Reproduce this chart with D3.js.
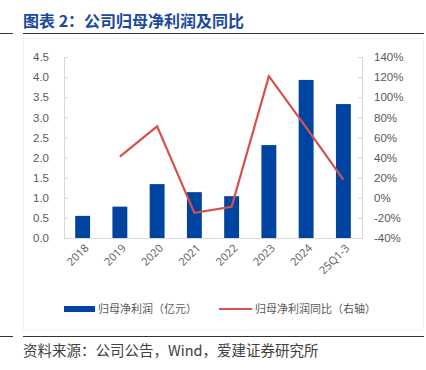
<!DOCTYPE html>
<html>
<head>
<meta charset="utf-8">
<script src="https://cdn.jsdelivr.net/npm/d3@7"></script>
<style>
  body { margin: 0; background: #fff; }
  svg { display: block; font-family: "Open Sans", "Noto Sans CJK SC", sans-serif; }
</style>
</head>
<body>
<svg width="426" height="370"></svg>
<script>
const categories = ["2018", "2019", "2020", "2021", "2022", "2023", "2024", "25Q1-3"];
const profit = [0.55, 0.78, 1.34, 1.14, 1.04, 2.31, 3.93, 3.33];
const yoy = [null, 41, 71, -15, -9, 121, 70, 18];
const leftTicks = [0, 0.5, 1, 1.5, 2, 2.5, 3, 3.5, 4, 4.5];
const rightTicks = [-40, -20, 0, 20, 40, 60, 80, 100, 120, 140];

const svg = d3.select("svg");
const margin = { top: 57, left: 64, right: 362, bottom: 238 };

const x = d3.scaleBand()
  .domain(categories)
  .range([margin.left, margin.right])
  .paddingInner(0.6)
  .paddingOuter(0.3);

const yL = d3.scaleLinear().domain([0, 4.5]).range([margin.bottom, margin.top]);
const yR = d3.scaleLinear().domain([-40, 140]).range([margin.bottom, margin.top]);

// title
svg.append("text")
  .attr("x", 23).attr("y", 27)
  .attr("fill", "#1b4a9c")
  .attr("font-size", 16).attr("font-weight", "bold")
  .attr("font-family", "'Noto Sans CJK SC', sans-serif")
  .text("图表 2：公司归母净利润及同比");

svg.append("line").attr("x1", 23).attr("x2", 424).attr("y1", 33.5).attr("y2", 33.5)
  .attr("stroke", "#333").attr("stroke-width", 1.2);
svg.append("line").attr("x1", 0).attr("x2", 13).attr("y1", 33.5).attr("y2", 33.5)
  .attr("stroke", "#333").attr("stroke-width", 1);

// faint chart frame
svg.append("rect").attr("x", 23.5).attr("y", 38.5).attr("width", 400).attr("height", 292)
  .attr("fill", "none").attr("stroke", "#f3f3f3");

// axes
const axisL = d3.axisLeft(yL).tickValues(leftTicks).tickFormat(d3.format(".1f")).tickSize(-4).tickPadding(15);
const axisR = d3.axisRight(yR).tickValues(rightTicks).tickFormat(d => d + "%").tickSize(-4).tickPadding(12);

const gL = svg.append("g").attr("transform", `translate(${margin.left},0)`).call(axisL);
const gR = svg.append("g").attr("transform", `translate(${margin.right},0)`).call(axisR);

[gL, gR].forEach(g => {
  g.select(".domain").attr("stroke", "#d9d9d9");
  g.selectAll(".tick line").attr("stroke", "#d9d9d9");
  g.selectAll(".tick text").attr("fill", "#595959").attr("font-size", 11.5);
});

svg.append("line")
  .attr("x1", margin.left).attr("x2", margin.right)
  .attr("y1", margin.bottom + 0.5).attr("y2", margin.bottom + 0.5)
  .attr("stroke", "#d9d9d9");

// bars
svg.append("g").selectAll("rect")
  .data(profit)
  .enter()
  .append("rect")
  .attr("x", (d, i) => x(categories[i]))
  .attr("y", d => yL(d))
  .attr("width", x.bandwidth())
  .attr("height", d => yL(0) - yL(d))
  .attr("fill", "#0044a1");

// yoy line
const line = d3.line()
  .defined(d => d != null)
  .x((d, i) => x(categories[i]) + x.bandwidth() / 2)
  .y(d => yR(d));

svg.append("path")
  .datum(yoy)
  .attr("d", line)
  .attr("fill", "none")
  .attr("stroke", "#d5504e")
  .attr("stroke-width", 2.2);

// x labels
svg.append("g").selectAll("text")
  .data(categories)
  .enter()
  .append("text")
  .attr("transform", d => `translate(${x(d) + x.bandwidth() / 2 + 4},${margin.bottom + 8}) rotate(-45)`)
  .attr("text-anchor", "end")
  .attr("dy", "0.35em")
  .attr("fill", "#595959")
  .attr("font-size", 11)
  .text(d => d);

// legend
const lg = svg.append("g").attr("font-size", 11).attr("fill", "#595959")
  .attr("font-family", "'Noto Sans CJK SC', sans-serif");
lg.append("rect").attr("x", 64).attr("y", 306).attr("width", 31).attr("height", 6).attr("fill", "#0044a1");
lg.append("text").attr("x", 98).attr("y", 309).attr("dy", "0.35em").text("归母净利润（亿元）");
lg.append("line").attr("x1", 219).attr("x2", 252).attr("y1", 309).attr("y2", 309)
  .attr("stroke", "#d5504e").attr("stroke-width", 2);
lg.append("text").attr("x", 255).attr("y", 309).attr("dy", "0.35em").text("归母净利润同比（右轴）");

// footer
svg.append("line").attr("x1", 23).attr("x2", 424).attr("y1", 336.5).attr("y2", 336.5)
  .attr("stroke", "#333").attr("stroke-width", 1.2);
svg.append("line").attr("x1", 0).attr("x2", 13).attr("y1", 336.5).attr("y2", 336.5)
  .attr("stroke", "#333").attr("stroke-width", 1);
svg.append("text")
  .attr("x", 23).attr("y", 356)
  .attr("fill", "#404040")
  .attr("font-size", 14.5)
  .attr("font-family", "'Noto Sans CJK SC', sans-serif")
  .text("资料来源：公司公告，Wind，爱建证券研究所");
</script>
</body>
</html>
